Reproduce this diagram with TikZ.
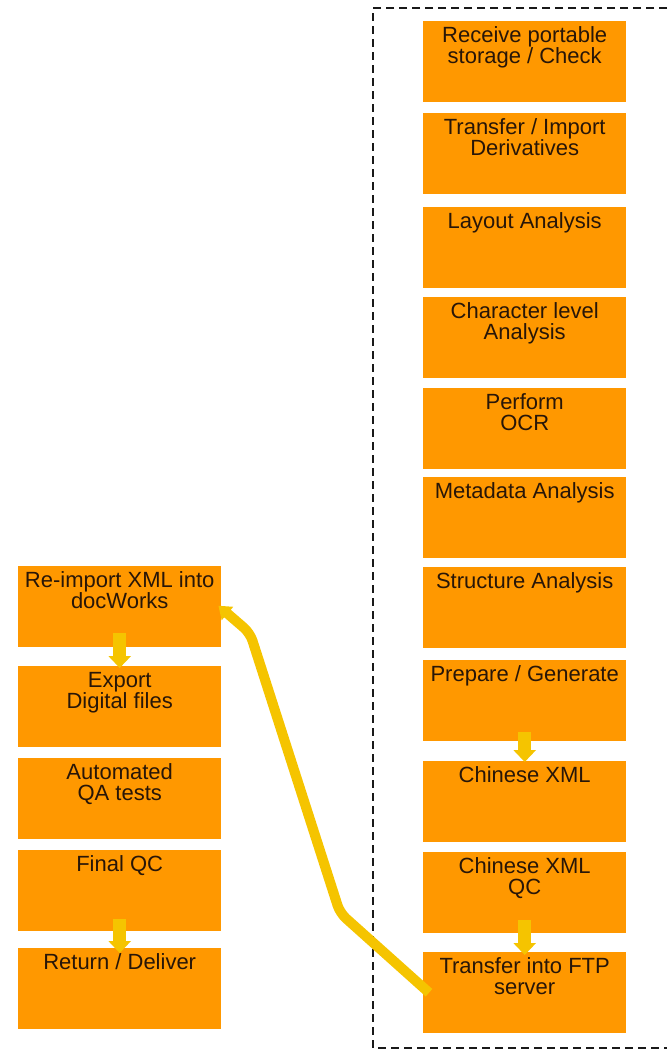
\documentclass[tikz,border=0pt]{standalone}
\usepackage{fontspec}
\setmainfont{Liberation Sans}
\usetikzlibrary{arrows.meta}
\definecolor{boxorange}{RGB}{255,152,0}
\definecolor{boxtext}{RGB}{40,22,8}
\definecolor{flowgold}{RGB}{245,196,0}
\newcommand{\steptext}[1]{\parbox[c][81pt][t]{203pt}{\centering\fontsize{22}{21}\selectfont\rule{0pt}{21.5pt}#1}}
\tikzset{
  stepbox/.style={fill=boxorange, text=boxtext, inner sep=0pt, anchor=north west},
  downflow/.style={draw=flowgold, line width=13pt, -{Triangle[width=22pt,length=12pt]}},
  returnflow/.style={draw=flowgold, line width=10pt, rounded corners=8pt, -{Triangle[width=17pt,length=12pt]}},
  frame/.style={draw=black!90, line width=1.3pt, dash pattern=on 8pt off 5pt}
}
\begin{document}
\begin{tikzpicture}[x=1pt, y=-1pt]
\useasboundingbox (0,0) rectangle (667,1055);

% dashed frame around the conversion steps (open to the right)
\draw[frame] (667,8) -- (373,8) -- (373,1048) -- (667,1048);

% conversion steps
\node[stepbox] (s1)  at (423,21)  {\steptext{Receive portable\\storage / Check}};
\node[stepbox] (s2)  at (423,113) {\steptext{Transfer / Import\\Derivatives}};
\node[stepbox] (s3)  at (423,207) {\steptext{Layout Analysis}};
\node[stepbox] (s4)  at (423,297) {\steptext{Character level\\Analysis}};
\node[stepbox] (s5)  at (423,388) {\steptext{Perform\\OCR}};
\node[stepbox] (s6)  at (423,477) {\steptext{Metadata Analysis}};
\node[stepbox] (s7)  at (423,567) {\steptext{Structure Analysis}};
\node[stepbox] (s8)  at (423,660) {\steptext{Prepare / Generate}};
\node[stepbox] (s9)  at (423,761) {\steptext{Chinese XML}};
\node[stepbox] (s10) at (423,852) {\steptext{Chinese XML\\QC}};
\node[stepbox] (s11) at (423,952) {\steptext{Transfer into FTP\\server}};

% delivery steps
\node[stepbox] (d1) at (18,566) {\steptext{Re-import XML into\\docWorks}};
\node[stepbox] (d2) at (18,666) {\steptext{Export\\Digital files}};
\node[stepbox] (d3) at (18,758) {\steptext{Automated\\QA tests}};
\node[stepbox] (d4) at (18,850) {\steptext{Final QC}};
\node[stepbox] (d5) at (18,948) {\steptext{Return / Deliver}};

% short downward flows, starting inside the upper box
\draw[downflow] ([yshift=9pt]s8.south) -- ([yshift=-1pt]s9.north);
\draw[downflow] ([yshift=13pt]s10.south) -- ([yshift=-3pt]s11.north);
\draw[downflow] ([yshift=14pt]d1.south) -- ([yshift=-2pt]d2.north);
\draw[downflow] ([yshift=12pt]d4.south) -- ([yshift=-5pt]d5.north);

% return path from the FTP server to re-import
\coordinate (b1) at (340,913);
\coordinate (b2) at (250,633);
\draw[returnflow] ([xshift=6pt]s11.west) -- (b1) -- (b2) -- ([xshift=-3pt,yshift=1pt]d1.east);
\end{tikzpicture}
\end{document}
